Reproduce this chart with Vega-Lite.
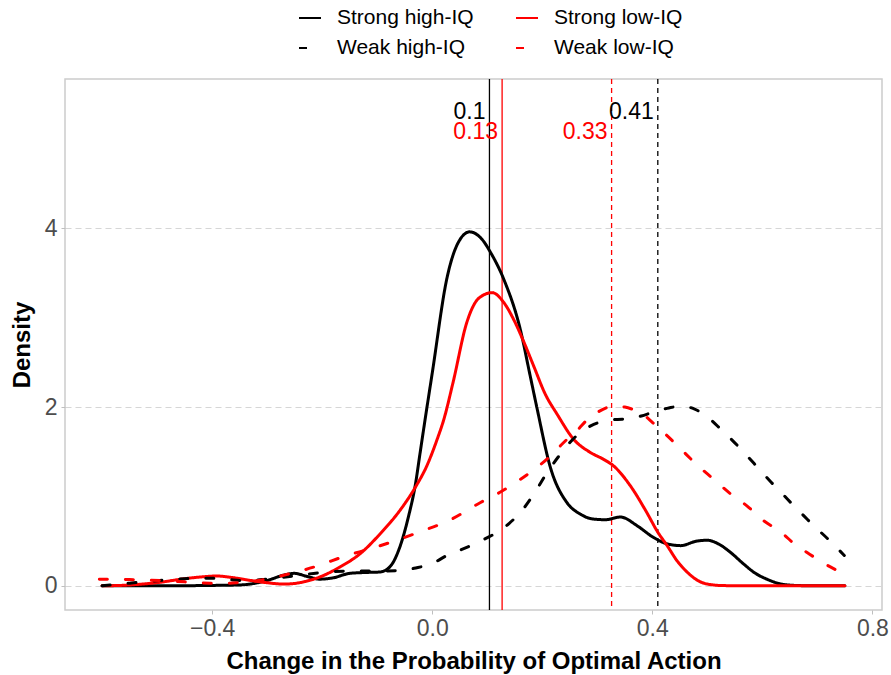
{
  "$schema": "https://vega.github.io/schema/vega-lite/v6.json",
  "autosize": {"type": "none"},
  "width": 817,
  "height": 531,
  "padding": {"left": 65, "top": 79, "right": 9, "bottom": 65},
  "background": "white",
  "config": {
    "view": {"stroke": "#cccccc", "strokeWidth": 1.5},
    "font": "Liberation Sans",
    "axis": {
      "labelFont": "Liberation Sans",
      "titleFont": "Liberation Sans",
      "labelColor": "#4d4d4d",
      "tickColor": "#bfbfbf",
      "domain": false,
      "tickSize": 4
    }
  },
  "datasets": {
    "curves": [
      {"series": "Strong high-IQ", "x": -0.60, "y": 0.0},
      {"series": "Strong high-IQ", "x": -0.50, "y": 0.0},
      {"series": "Strong high-IQ", "x": -0.40, "y": 0.005},
      {"series": "Strong high-IQ", "x": -0.35, "y": 0.01},
      {"series": "Strong high-IQ", "x": -0.30, "y": 0.06},
      {"series": "Strong high-IQ", "x": -0.27, "y": 0.12},
      {"series": "Strong high-IQ", "x": -0.25, "y": 0.14},
      {"series": "Strong high-IQ", "x": -0.23, "y": 0.11},
      {"series": "Strong high-IQ", "x": -0.204, "y": 0.075},
      {"series": "Strong high-IQ", "x": -0.18, "y": 0.09},
      {"series": "Strong high-IQ", "x": -0.15, "y": 0.14},
      {"series": "Strong high-IQ", "x": -0.12, "y": 0.15},
      {"series": "Strong high-IQ", "x": -0.095, "y": 0.155},
      {"series": "Strong high-IQ", "x": -0.076, "y": 0.22},
      {"series": "Strong high-IQ", "x": -0.058, "y": 0.45},
      {"series": "Strong high-IQ", "x": -0.043, "y": 0.78},
      {"series": "Strong high-IQ", "x": -0.031, "y": 1.12},
      {"series": "Strong high-IQ", "x": -0.022, "y": 1.49},
      {"series": "Strong high-IQ", "x": -0.013, "y": 1.86},
      {"series": "Strong high-IQ", "x": 0.0, "y": 2.38},
      {"series": "Strong high-IQ", "x": 0.027, "y": 3.45},
      {"series": "Strong high-IQ", "x": 0.05, "y": 3.87},
      {"series": "Strong high-IQ", "x": 0.068, "y": 3.96},
      {"series": "Strong high-IQ", "x": 0.09, "y": 3.88},
      {"series": "Strong high-IQ", "x": 0.106, "y": 3.73},
      {"series": "Strong high-IQ", "x": 0.13, "y": 3.43},
      {"series": "Strong high-IQ", "x": 0.16, "y": 2.87},
      {"series": "Strong high-IQ", "x": 0.178, "y": 2.35},
      {"series": "Strong high-IQ", "x": 0.19, "y": 2.0},
      {"series": "Strong high-IQ", "x": 0.215, "y": 1.32},
      {"series": "Strong high-IQ", "x": 0.245, "y": 0.93},
      {"series": "Strong high-IQ", "x": 0.27, "y": 0.8},
      {"series": "Strong high-IQ", "x": 0.29, "y": 0.75},
      {"series": "Strong high-IQ", "x": 0.315, "y": 0.74},
      {"series": "Strong high-IQ", "x": 0.342, "y": 0.77},
      {"series": "Strong high-IQ", "x": 0.373, "y": 0.67},
      {"series": "Strong high-IQ", "x": 0.40, "y": 0.55},
      {"series": "Strong high-IQ", "x": 0.427, "y": 0.47},
      {"series": "Strong high-IQ", "x": 0.452, "y": 0.45},
      {"series": "Strong high-IQ", "x": 0.48, "y": 0.5},
      {"series": "Strong high-IQ", "x": 0.50, "y": 0.51},
      {"series": "Strong high-IQ", "x": 0.52, "y": 0.47},
      {"series": "Strong high-IQ", "x": 0.543, "y": 0.37},
      {"series": "Strong high-IQ", "x": 0.565, "y": 0.25},
      {"series": "Strong high-IQ", "x": 0.585, "y": 0.15},
      {"series": "Strong high-IQ", "x": 0.61, "y": 0.07},
      {"series": "Strong high-IQ", "x": 0.634, "y": 0.02},
      {"series": "Strong high-IQ", "x": 0.66, "y": 0.005},
      {"series": "Strong high-IQ", "x": 0.70, "y": 0.0},
      {"series": "Strong high-IQ", "x": 0.75, "y": 0.0},

      {"series": "Strong low-IQ", "x": -0.60, "y": 0.0},
      {"series": "Strong low-IQ", "x": -0.55, "y": 0.01},
      {"series": "Strong low-IQ", "x": -0.495, "y": 0.04},
      {"series": "Strong low-IQ", "x": -0.45, "y": 0.08},
      {"series": "Strong low-IQ", "x": -0.42, "y": 0.1},
      {"series": "Strong low-IQ", "x": -0.392, "y": 0.11},
      {"series": "Strong low-IQ", "x": -0.36, "y": 0.09},
      {"series": "Strong low-IQ", "x": -0.33, "y": 0.06},
      {"series": "Strong low-IQ", "x": -0.30, "y": 0.035},
      {"series": "Strong low-IQ", "x": -0.27, "y": 0.02},
      {"series": "Strong low-IQ", "x": -0.253, "y": 0.025},
      {"series": "Strong low-IQ", "x": -0.23, "y": 0.05},
      {"series": "Strong low-IQ", "x": -0.204, "y": 0.1},
      {"series": "Strong low-IQ", "x": -0.168, "y": 0.21},
      {"series": "Strong low-IQ", "x": -0.131, "y": 0.36},
      {"series": "Strong low-IQ", "x": -0.095, "y": 0.58},
      {"series": "Strong low-IQ", "x": -0.058, "y": 0.85},
      {"series": "Strong low-IQ", "x": -0.031, "y": 1.1},
      {"series": "Strong low-IQ", "x": -0.01, "y": 1.34},
      {"series": "Strong low-IQ", "x": 0.009, "y": 1.64},
      {"series": "Strong low-IQ", "x": 0.021, "y": 1.86},
      {"series": "Strong low-IQ", "x": 0.038, "y": 2.28},
      {"series": "Strong low-IQ", "x": 0.063, "y": 2.95},
      {"series": "Strong low-IQ", "x": 0.085, "y": 3.22},
      {"series": "Strong low-IQ", "x": 0.109, "y": 3.28},
      {"series": "Strong low-IQ", "x": 0.13, "y": 3.17},
      {"series": "Strong low-IQ", "x": 0.148, "y": 2.98},
      {"series": "Strong low-IQ", "x": 0.165, "y": 2.75},
      {"series": "Strong low-IQ", "x": 0.185, "y": 2.45},
      {"series": "Strong low-IQ", "x": 0.205, "y": 2.15},
      {"series": "Strong low-IQ", "x": 0.227, "y": 1.92},
      {"series": "Strong low-IQ", "x": 0.257, "y": 1.64},
      {"series": "Strong low-IQ", "x": 0.288, "y": 1.49},
      {"series": "Strong low-IQ", "x": 0.31, "y": 1.42},
      {"series": "Strong low-IQ", "x": 0.33, "y": 1.34},
      {"series": "Strong low-IQ", "x": 0.36, "y": 1.12},
      {"series": "Strong low-IQ", "x": 0.39, "y": 0.82},
      {"series": "Strong low-IQ", "x": 0.41, "y": 0.6},
      {"series": "Strong low-IQ", "x": 0.427, "y": 0.45},
      {"series": "Strong low-IQ", "x": 0.445, "y": 0.28},
      {"series": "Strong low-IQ", "x": 0.464, "y": 0.15},
      {"series": "Strong low-IQ", "x": 0.48, "y": 0.07},
      {"series": "Strong low-IQ", "x": 0.50, "y": 0.02},
      {"series": "Strong low-IQ", "x": 0.53, "y": 0.003},
      {"series": "Strong low-IQ", "x": 0.60, "y": 0.0},
      {"series": "Strong low-IQ", "x": 0.75, "y": 0.0},

      {"series": "Weak high-IQ", "x": -0.60, "y": 0.0},
      {"series": "Weak high-IQ", "x": -0.55, "y": 0.03},
      {"series": "Weak high-IQ", "x": -0.495, "y": 0.06},
      {"series": "Weak high-IQ", "x": -0.45, "y": 0.08},
      {"series": "Weak high-IQ", "x": -0.404, "y": 0.085},
      {"series": "Weak high-IQ", "x": -0.37, "y": 0.07},
      {"series": "Weak high-IQ", "x": -0.344, "y": 0.06},
      {"series": "Weak high-IQ", "x": -0.31, "y": 0.07},
      {"series": "Weak high-IQ", "x": -0.28, "y": 0.09},
      {"series": "Weak high-IQ", "x": -0.253, "y": 0.11},
      {"series": "Weak high-IQ", "x": -0.20, "y": 0.15},
      {"series": "Weak high-IQ", "x": -0.155, "y": 0.165},
      {"series": "Weak high-IQ", "x": -0.11, "y": 0.165},
      {"series": "Weak high-IQ", "x": -0.06, "y": 0.17},
      {"series": "Weak high-IQ", "x": -0.03, "y": 0.2},
      {"series": "Weak high-IQ", "x": 0.0, "y": 0.25},
      {"series": "Weak high-IQ", "x": 0.027, "y": 0.34},
      {"series": "Weak high-IQ", "x": 0.055, "y": 0.41},
      {"series": "Weak high-IQ", "x": 0.087, "y": 0.5},
      {"series": "Weak high-IQ", "x": 0.118, "y": 0.6},
      {"series": "Weak high-IQ", "x": 0.14, "y": 0.7},
      {"series": "Weak high-IQ", "x": 0.16, "y": 0.82},
      {"series": "Weak high-IQ", "x": 0.185, "y": 1.03},
      {"series": "Weak high-IQ", "x": 0.209, "y": 1.27},
      {"series": "Weak high-IQ", "x": 0.23, "y": 1.45},
      {"series": "Weak high-IQ", "x": 0.251, "y": 1.61},
      {"series": "Weak high-IQ", "x": 0.27, "y": 1.72},
      {"series": "Weak high-IQ", "x": 0.288, "y": 1.79},
      {"series": "Weak high-IQ", "x": 0.31, "y": 1.84},
      {"series": "Weak high-IQ", "x": 0.33, "y": 1.86},
      {"series": "Weak high-IQ", "x": 0.36, "y": 1.87},
      {"series": "Weak high-IQ", "x": 0.38, "y": 1.9},
      {"series": "Weak high-IQ", "x": 0.40, "y": 1.94},
      {"series": "Weak high-IQ", "x": 0.43, "y": 1.99},
      {"series": "Weak high-IQ", "x": 0.452, "y": 2.01},
      {"series": "Weak high-IQ", "x": 0.476, "y": 1.98},
      {"series": "Weak high-IQ", "x": 0.50, "y": 1.89},
      {"series": "Weak high-IQ", "x": 0.525, "y": 1.75},
      {"series": "Weak high-IQ", "x": 0.55, "y": 1.6},
      {"series": "Weak high-IQ", "x": 0.573, "y": 1.45},
      {"series": "Weak high-IQ", "x": 0.595, "y": 1.3},
      {"series": "Weak high-IQ", "x": 0.616, "y": 1.16},
      {"series": "Weak high-IQ", "x": 0.638, "y": 1.02},
      {"series": "Weak high-IQ", "x": 0.658, "y": 0.89},
      {"series": "Weak high-IQ", "x": 0.676, "y": 0.78},
      {"series": "Weak high-IQ", "x": 0.694, "y": 0.67},
      {"series": "Weak high-IQ", "x": 0.72, "y": 0.52},
      {"series": "Weak high-IQ", "x": 0.749, "y": 0.34},

      {"series": "Weak low-IQ", "x": -0.605, "y": 0.075},
      {"series": "Weak low-IQ", "x": -0.55, "y": 0.07},
      {"series": "Weak low-IQ", "x": -0.495, "y": 0.06},
      {"series": "Weak low-IQ", "x": -0.45, "y": 0.045},
      {"series": "Weak low-IQ", "x": -0.404, "y": 0.03},
      {"series": "Weak low-IQ", "x": -0.37, "y": 0.03},
      {"series": "Weak low-IQ", "x": -0.344, "y": 0.04},
      {"series": "Weak low-IQ", "x": -0.31, "y": 0.065},
      {"series": "Weak low-IQ", "x": -0.283, "y": 0.1},
      {"series": "Weak low-IQ", "x": -0.25, "y": 0.15},
      {"series": "Weak low-IQ", "x": -0.21, "y": 0.22},
      {"series": "Weak low-IQ", "x": -0.16, "y": 0.33},
      {"series": "Weak low-IQ", "x": -0.11, "y": 0.42},
      {"series": "Weak low-IQ", "x": -0.06, "y": 0.52},
      {"series": "Weak low-IQ", "x": -0.02, "y": 0.61},
      {"series": "Weak low-IQ", "x": 0.03, "y": 0.73},
      {"series": "Weak low-IQ", "x": 0.087, "y": 0.93},
      {"series": "Weak low-IQ", "x": 0.124, "y": 1.05},
      {"series": "Weak low-IQ", "x": 0.16, "y": 1.19},
      {"series": "Weak low-IQ", "x": 0.185, "y": 1.3},
      {"series": "Weak low-IQ", "x": 0.209, "y": 1.42},
      {"series": "Weak low-IQ", "x": 0.227, "y": 1.53},
      {"series": "Weak low-IQ", "x": 0.245, "y": 1.64},
      {"series": "Weak low-IQ", "x": 0.265, "y": 1.75},
      {"series": "Weak low-IQ", "x": 0.282, "y": 1.86},
      {"series": "Weak low-IQ", "x": 0.30, "y": 1.94},
      {"series": "Weak low-IQ", "x": 0.33, "y": 2.01},
      {"series": "Weak low-IQ", "x": 0.35, "y": 2.0},
      {"series": "Weak low-IQ", "x": 0.366, "y": 1.97},
      {"series": "Weak low-IQ", "x": 0.385, "y": 1.91},
      {"series": "Weak low-IQ", "x": 0.40, "y": 1.83},
      {"series": "Weak low-IQ", "x": 0.425, "y": 1.69},
      {"series": "Weak low-IQ", "x": 0.452, "y": 1.53},
      {"series": "Weak low-IQ", "x": 0.48, "y": 1.36},
      {"series": "Weak low-IQ", "x": 0.512, "y": 1.19},
      {"series": "Weak low-IQ", "x": 0.54, "y": 1.04},
      {"series": "Weak low-IQ", "x": 0.573, "y": 0.89},
      {"series": "Weak low-IQ", "x": 0.60, "y": 0.74},
      {"series": "Weak low-IQ", "x": 0.634, "y": 0.6},
      {"series": "Weak low-IQ", "x": 0.66, "y": 0.46},
      {"series": "Weak low-IQ", "x": 0.682, "y": 0.37},
      {"series": "Weak low-IQ", "x": 0.71, "y": 0.26},
      {"series": "Weak low-IQ", "x": 0.749, "y": 0.13}
    ],
    "means": [
      {"series": "Strong high-IQ", "mean": 0.104},
      {"series": "Strong low-IQ", "mean": 0.127},
      {"series": "Weak high-IQ", "mean": 0.41},
      {"series": "Weak low-IQ", "mean": 0.326}
    ]
  },
  "layer": [
    {
      "data": {"name": "means"},
      "transform": [{"filter": {"field": "series", "oneOf": ["Strong high-IQ", "Strong low-IQ"]}}],
      "mark": {"type": "rule", "strokeWidth": 1.3},
      "encoding": {
        "x": {"field": "mean", "type": "quantitative"},
        "color": {"field": "series", "type": "nominal"}
      }
    },
    {
      "data": {"name": "means"},
      "transform": [{"filter": {"field": "series", "oneOf": ["Weak high-IQ", "Weak low-IQ"]}}],
      "mark": {"type": "rule", "strokeWidth": 1.3, "strokeDash": [5, 4]},
      "encoding": {
        "x": {"field": "mean", "type": "quantitative"},
        "color": {"field": "series", "type": "nominal"}
      }
    },
    {
      "data": {"name": "curves"},
      "mark": {"type": "line", "strokeWidth": 3, "interpolate": "monotone", "strokeCap": "round"},
      "encoding": {
        "x": {
          "field": "x", "type": "quantitative",
          "scale": {"domain": [-0.6675, 0.8175], "nice": false, "zero": false},
          "axis": {
            "values": [-0.4, 0.0, 0.4, 0.8],
            "format": ".1f",
            "grid": false,
            "labelFontSize": 23,
            "labelPadding": 3,
            "title": "Change in the Probability of Optimal Action",
            "titleFontSize": 24,
            "titleFontWeight": "bold",
            "titleColor": "black",
            "titlePadding": 9
          }
        },
        "y": {
          "field": "y", "type": "quantitative",
          "scale": {"domain": [-0.27, 5.67], "nice": false, "zero": false},
          "axis": {
            "values": [0, 2, 4],
            "format": "d",
            "grid": true,
            "gridColor": "#d6d6d6",
            "gridDash": [6, 4],
            "gridWidth": 1.2,
            "labelFontSize": 23,
            "labelPadding": 4,
            "title": "Density",
            "titleFontSize": 24,
            "titleFontWeight": "bold",
            "titleColor": "black",
            "titlePadding": 10
          }
        },
        "color": {
          "field": "series", "type": "nominal",
          "scale": {
            "domain": ["Strong high-IQ", "Strong low-IQ", "Weak high-IQ", "Weak low-IQ"],
            "range": ["#000000", "#ff0000", "#000000", "#ff0000"]
          },
          "legend": {
            "title": null,
            "orient": "none",
            "legendX": 233,
            "legendY": -73,
            "columns": 2,
            "direction": "horizontal",
            "symbolType": "stroke",
            "symbolSize": 484,
            "symbolStrokeWidth": 2,
            "labelFontSize": 21,
            "labelFont": "Liberation Sans",
            "labelColor": "black",
            "labelOffset": 15,
            "columnPadding": 38,
            "rowPadding": 8,
            "padding": 0
          }
        },
        "strokeDash": {
          "field": "series", "type": "nominal",
          "scale": {
            "domain": ["Strong high-IQ", "Strong low-IQ", "Weak high-IQ", "Weak low-IQ"],
            "range": [[1, 0], [1, 0], [8, 18], [8, 18]]
          },
          "legend": {
            "title": null,
            "orient": "none",
            "legendX": 233,
            "legendY": -73,
            "columns": 2,
            "direction": "horizontal",
            "symbolType": "stroke",
            "symbolSize": 484,
            "symbolStrokeWidth": 2,
            "labelFontSize": 21,
            "labelFont": "Liberation Sans",
            "labelColor": "black",
            "labelOffset": 15,
            "columnPadding": 38,
            "rowPadding": 8,
            "padding": 0
          }
        }
      }
    },
    {
      "data": {"name": "means"},
      "transform": [{"filter": {"field": "series", "oneOf": ["Strong high-IQ", "Weak high-IQ"]}}],
      "mark": {"type": "text", "align": "right", "baseline": "middle", "dx": -4, "fontSize": 23, "font": "Liberation Sans"},
      "encoding": {
        "x": {"field": "mean", "type": "quantitative"},
        "y": {"datum": 5.3},
        "text": {"field": "mean", "type": "quantitative", "format": ".2~f"},
        "color": {"field": "series", "type": "nominal"}
      }
    },
    {
      "data": {"name": "means"},
      "transform": [{"filter": {"field": "series", "oneOf": ["Strong low-IQ", "Weak low-IQ"]}}],
      "mark": {"type": "text", "align": "right", "baseline": "middle", "dx": -4, "fontSize": 23, "font": "Liberation Sans"},
      "encoding": {
        "x": {"field": "mean", "type": "quantitative"},
        "y": {"datum": 5.08},
        "text": {"field": "mean", "type": "quantitative", "format": ".2~f"},
        "color": {"field": "series", "type": "nominal"}
      }
    }
  ]
}
